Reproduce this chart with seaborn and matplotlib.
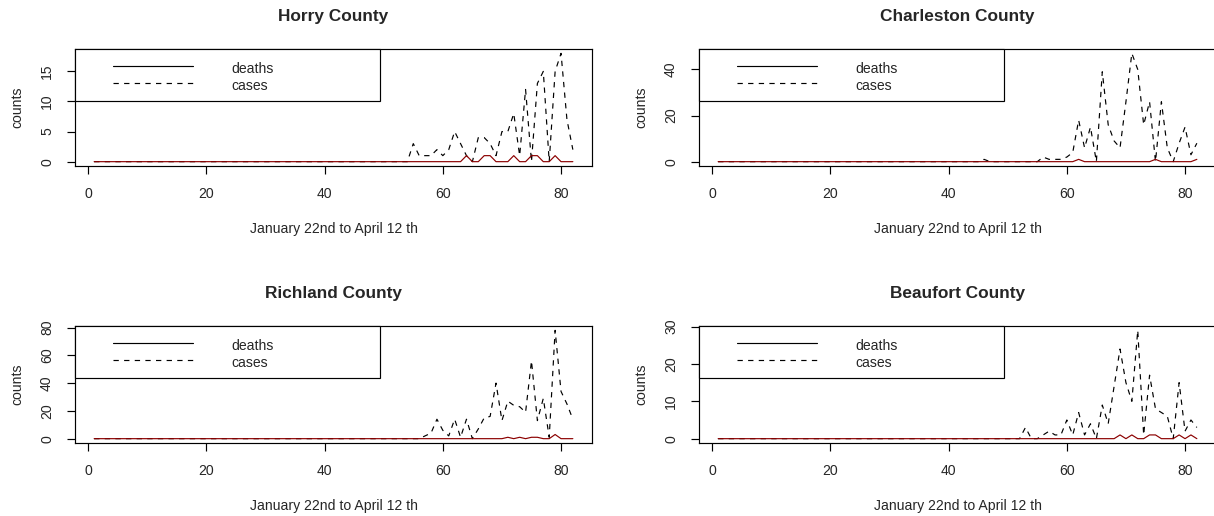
import numpy as np
import matplotlib
matplotlib.use("Agg")
import matplotlib.pyplot as plt
from matplotlib.patches import Rectangle
import seaborn as sns

sns.set_style("white")
plt.rcParams["font.family"] = ["Liberation Sans", "DejaVu Sans"]

# Day index: January 22nd (day 1) to April 12th (day 82)
days = np.arange(1, 83)

horry_cases = [0, 0, 0, 0, 0, 0, 0, 0, 0, 0, 0, 0, 0, 0, 0, 0, 0, 0, 0, 0,
               0, 0, 0, 0, 0, 0, 0, 0, 0, 0, 0, 0, 0, 0, 0, 0, 0, 0, 0, 0,
               0, 0, 0, 0, 0, 0, 0, 0, 0, 0, 0, 0, 0, 0, 3, 1, 1, 1, 2, 1,
               2, 5, 3, 1, 0, 4, 4, 3, 1, 5, 5, 8, 1, 12, 0, 13, 15, 0, 15, 18,
               7, 2]
horry_deaths = [0, 0, 0, 0, 0, 0, 0, 0, 0, 0, 0, 0, 0, 0, 0, 0, 0, 0, 0, 0,
                0, 0, 0, 0, 0, 0, 0, 0, 0, 0, 0, 0, 0, 0, 0, 0, 0, 0, 0, 0,
                0, 0, 0, 0, 0, 0, 0, 0, 0, 0, 0, 0, 0, 0, 0, 0, 0, 0, 0, 0,
                0, 0, 0, 1, 0, 0, 1, 1, 0, 0, 0, 1, 0, 0, 1, 1, 0, 0, 1, 0,
                0, 0]

charleston_cases = [0, 0, 0, 0, 0, 0, 0, 0, 0, 0, 0, 0, 0, 0, 0, 0, 0, 0, 0, 0,
                    0, 0, 0, 0, 0, 0, 0, 0, 0, 0, 0, 0, 0, 0, 0, 0, 0, 0, 0, 0,
                    0, 0, 0, 0, 0, 1, 0, 0, 0, 0, 0, 0, 0, 0, 0, 2, 1, 1, 1, 2,
                    4, 18, 6, 15, 0, 39, 16, 9, 6, 26, 47, 40, 16, 26, 0, 26, 6, 0, 8, 15,
                    3, 8]
charleston_deaths = [0, 0, 0, 0, 0, 0, 0, 0, 0, 0, 0, 0, 0, 0, 0, 0, 0, 0, 0, 0,
                     0, 0, 0, 0, 0, 0, 0, 0, 0, 0, 0, 0, 0, 0, 0, 0, 0, 0, 0, 0,
                     0, 0, 0, 0, 0, 0, 0, 0, 0, 0, 0, 0, 0, 0, 0, 0, 0, 0, 0, 0,
                     0, 1, 0, 0, 0, 0, 0, 0, 0, 0, 0, 0, 0, 0, 1, 0, 0, 0, 0, 0,
                     0, 1]

richland_cases = [0, 0, 0, 0, 0, 0, 0, 0, 0, 0, 0, 0, 0, 0, 0, 0, 0, 0, 0, 0,
                  0, 0, 0, 0, 0, 0, 0, 0, 0, 0, 0, 0, 0, 0, 0, 0, 0, 0, 0, 0,
                  0, 0, 0, 0, 0, 0, 0, 0, 0, 0, 0, 0, 0, 0, 0, 0, 2, 4, 14, 6,
                  2, 14, 1, 14, 0, 7, 15, 16, 40, 13, 27, 24, 23, 19, 56, 13, 29, 1, 78, 34,
                  25, 14]
richland_deaths = [0, 0, 0, 0, 0, 0, 0, 0, 0, 0, 0, 0, 0, 0, 0, 0, 0, 0, 0, 0,
                   0, 0, 0, 0, 0, 0, 0, 0, 0, 0, 0, 0, 0, 0, 0, 0, 0, 0, 0, 0,
                   0, 0, 0, 0, 0, 0, 0, 0, 0, 0, 0, 0, 0, 0, 0, 0, 0, 0, 0, 0,
                   0, 0, 0, 0, 0, 0, 0, 0, 0, 0, 1, 0, 1, 0, 1, 1, 0, 0, 3, 0,
                   0, 0]

beaufort_cases = [0, 0, 0, 0, 0, 0, 0, 0, 0, 0, 0, 0, 0, 0, 0, 0, 0, 0, 0, 0,
                  0, 0, 0, 0, 0, 0, 0, 0, 0, 0, 0, 0, 0, 0, 0, 0, 0, 0, 0, 0,
                  0, 0, 0, 0, 0, 0, 0, 0, 0, 0, 0, 0, 3, 0, 0, 1, 2, 1, 1, 5,
                  1, 7, 1, 4, 0, 9, 4, 14, 24, 15, 10, 29, 1, 17, 8, 7, 6, 0, 15, 2,
                  5, 3]
beaufort_deaths = [0, 0, 0, 0, 0, 0, 0, 0, 0, 0, 0, 0, 0, 0, 0, 0, 0, 0, 0, 0,
                   0, 0, 0, 0, 0, 0, 0, 0, 0, 0, 0, 0, 0, 0, 0, 0, 0, 0, 0, 0,
                   0, 0, 0, 0, 0, 0, 0, 0, 0, 0, 0, 0, 0, 0, 0, 0, 0, 0, 0, 0,
                   0, 0, 0, 0, 0, 0, 0, 0, 1, 0, 1, 0, 0, 1, 1, 0, 0, 0, 1, 0,
                   1, 0]

titles = ["Horry County", "Charleston County", "Richland County", "Beaufort County"]
x_ticks = [0, 20, 40, 60, 80]
y_ticks = [[0, 5, 10, 15], [0, 20, 40], [0, 20, 40, 60, 80], [0, 10, 20, 30]]
x_label = "January 22nd to April 12 th"
y_label = "counts"
legend_labels = ["deaths", "cases"]

panels = [
    (horry_cases, horry_deaths),
    (charleston_cases, charleston_deaths),
    (richland_cases, richland_deaths),
    (beaufort_cases, beaufort_deaths),
]

W, H = 1214, 516
fig = plt.figure(figsize=(W / 100, H / 100), dpi=100)

# axes boxes in pixels: (left, top, width, height)
lefts = [75, 699]
tops = [49, 326]
aw, ah = 517, 117

tick_fs = 10.1
title_fs = 12.4
lw = 0.85
red = "#8B0000"
dash = (0, (4.5, 4.5))

for i, (cases, deaths) in enumerate(panels):
    col, row = i % 2, i // 2
    l, t = lefts[col], tops[row]
    ax = fig.add_axes([l / W, (H - t - ah) / H, aw / W, ah / H])

    sns.lineplot(x=days, y=cases, ax=ax, color="black", linewidth=lw,
                 linestyle=dash, estimator=None, sort=False)
    sns.lineplot(x=days, y=deaths, ax=ax, color=red, linewidth=lw,
                 estimator=None, sort=False)

    # R-style 4% padding around the data range
    xr = days.max() - days.min()
    ax.set_xlim(days.min() - 0.04 * xr, days.max() + 0.04 * xr)
    ymax = max(max(cases), max(deaths))
    ax.set_ylim(-0.04 * ymax, ymax * 1.04)

    ax.set_xticks(x_ticks)
    ax.set_yticks(y_ticks[i])
    ax.tick_params(axis="both", direction="out", length=6.1, width=lw,
                   color="black", labelsize=tick_fs, pad=9.0,
                   bottom=True, left=True)
    for lab in ax.get_yticklabels():
        lab.set_rotation(90)
        lab.set_va("center")

    for sp in ax.spines.values():
        sp.set_visible(True)
        sp.set_color("black")
        sp.set_linewidth(lw)

    ax.set_title(titles[i], fontsize=title_fs, fontweight="bold", pad=20.5)
    ax.set_xlabel(x_label, fontsize=tick_fs)
    ax.set_ylabel(y_label, fontsize=tick_fs)
    ax.xaxis.set_label_coords(0.5, -0.475)
    ax.yaxis.set_label_coords(-0.097, 0.5)

    # legend box in the top-left corner
    ax.add_patch(Rectangle((0, 0.558), 0.590, 0.442, transform=ax.transAxes,
                           facecolor="white", edgecolor="black", linewidth=lw,
                           zorder=5, clip_on=False))
    ax.plot([0.0735, 0.228], [0.857, 0.857], transform=ax.transAxes,
            color="black", linewidth=lw, zorder=6, clip_on=False)
    ax.plot([0.0735, 0.228], [0.707, 0.707], transform=ax.transAxes,
            color="black", linewidth=lw, linestyle=dash, zorder=6, clip_on=False)
    ax.text(0.302, 0.797, legend_labels[0], transform=ax.transAxes,
            fontsize=tick_fs, va="baseline", ha="left", zorder=7)
    ax.text(0.302, 0.650, legend_labels[1], transform=ax.transAxes,
            fontsize=tick_fs, va="baseline", ha="left", zorder=7)

fig.savefig("out.png", dpi=100)
